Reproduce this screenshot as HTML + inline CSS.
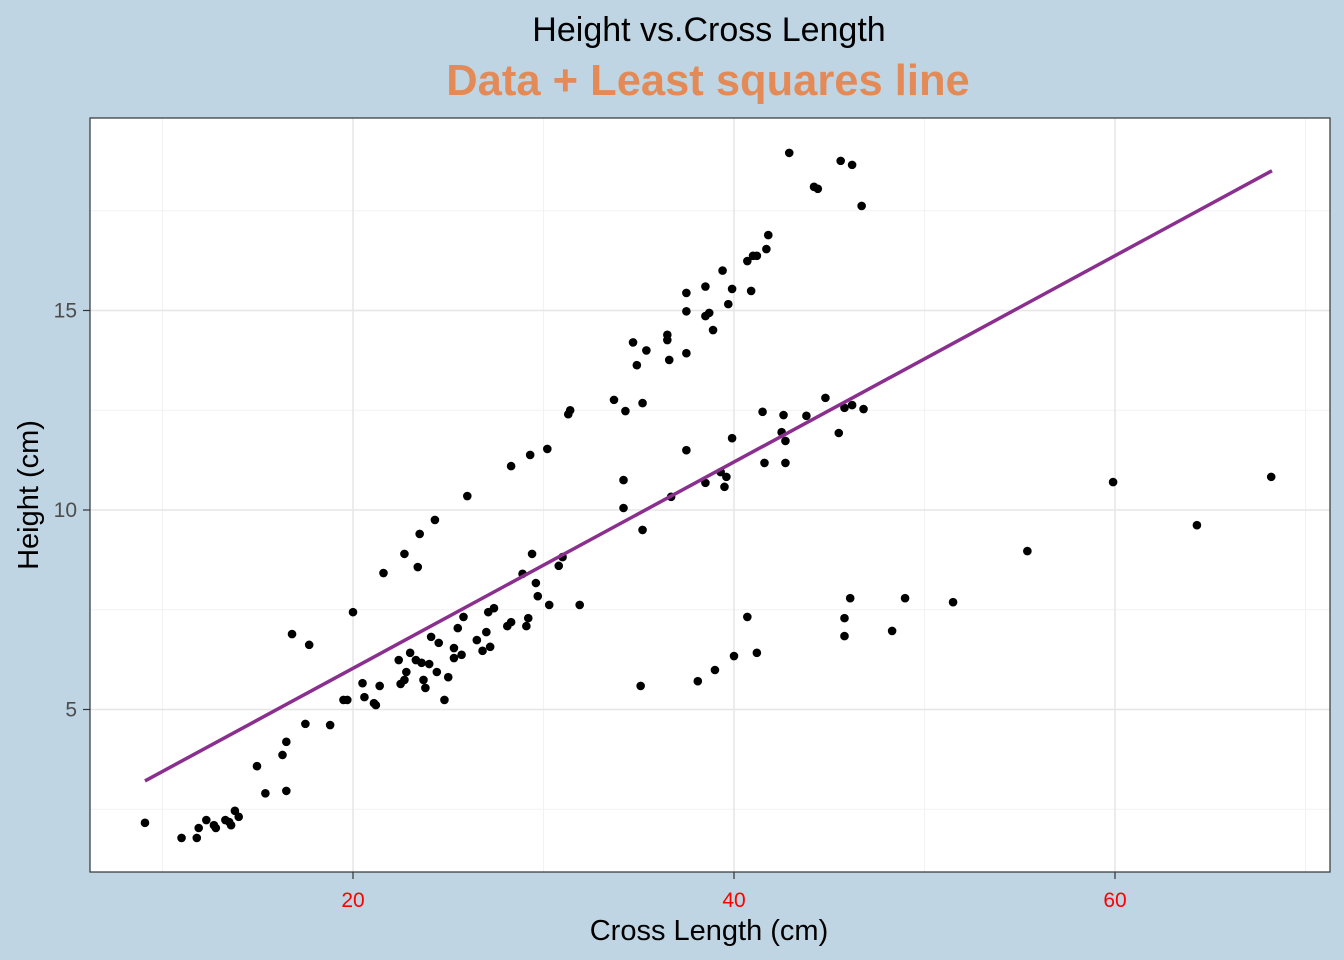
<!DOCTYPE html>
<html><head><meta charset="utf-8"><style>
html,body{margin:0;padding:0;background:#bfd5e3;}
svg{display:block;font-family:"Liberation Sans",Arial,sans-serif;}
</style></head><body>
<svg id="chart" width="1344" height="960">
<rect x="0" y="0" width="1344" height="960" fill="#bfd5e3"/>
<text x="709" y="41" font-size="34" text-anchor="middle" fill="#000">Height vs.Cross Length</text>
<text x="708" y="95" font-size="43.5" font-weight="bold" text-anchor="middle" fill="#e38a57">Data + Least squares line</text>
<rect x="90" y="118" width="1240" height="754" fill="#fff"/>
<g id="grid"></g>
<g id="points"></g>
<g id="fit"></g>
<rect x="90" y="118" width="1240" height="754" fill="none" stroke="#333" stroke-width="1.2"/>
<g id="axes"></g>
<text x="709" y="940" font-size="29" text-anchor="middle">Cross Length (cm)</text>
<text transform="translate(38,495) rotate(-90)" font-size="29" text-anchor="middle">Height (cm)</text>
</svg>
<script>
const xTicks=[20,40,60];
const xMinor=[10,30,50,70];
const yTicks=[5,10,15];
const yMinor=[2.5,7.5,12.5,17.5];
const xs=[9.08,11.0,11.8,11.9,12.3,12.7,12.8,13.3,13.5,13.6,13.8,14.0,14.96,15.4,16.3,16.5,16.5,16.8,17.5,17.7,18.8,19.5,19.7,20.0,20.5,20.6,21.1,21.2,21.4,21.6,22.4,22.5,22.7,22.7,22.8,23.0,23.4,23.5,23.3,23.6,23.7,23.8,24.0,24.1,24.3,24.4,24.5,24.8,25.0,25.3,25.3,25.5,25.7,25.8,26.0,26.5,26.8,27.0,27.1,27.2,27.4,28.1,28.3,28.3,28.9,29.1,29.2,29.3,29.4,29.6,29.7,30.2,30.3,30.8,31.0,31.3,31.4,31.9,33.7,34.3,34.2,34.2,34.7,34.9,35.1,35.2,35.2,35.4,36.5,36.5,36.6,36.7,37.5,37.5,37.5,37.5,38.1,38.5,38.5,38.5,38.7,38.9,39.0,39.3,39.4,39.5,39.6,39.7,39.9,39.9,40.0,40.7,40.7,40.9,41.0,41.2,41.2,41.5,41.6,41.7,41.8,42.5,42.6,42.7,42.7,42.9,43.8,44.2,44.4,44.8,45.5,45.6,45.8,45.8,45.8,46.1,46.2,46.2,46.7,46.8,48.3,48.98,51.5,55.4,59.9,64.3,68.2];
const ys=[2.16,1.78,1.78,2.03,2.23,2.1,2.03,2.23,2.18,2.1,2.46,2.31,3.58,2.9,3.86,4.19,2.96,6.89,4.64,6.62,4.61,5.24,5.24,7.44,5.66,5.31,5.16,5.11,5.59,8.42,6.24,5.64,8.9,5.74,5.94,6.42,8.57,9.4,6.24,6.17,5.74,5.54,6.14,6.82,9.75,5.94,6.67,5.24,5.81,6.54,6.29,7.04,6.37,7.32,10.35,6.74,6.47,6.94,7.44,6.57,7.54,7.09,7.19,11.1,8.4,7.09,7.29,11.38,8.9,8.17,7.84,11.53,7.62,8.6,8.82,12.4,12.5,7.62,12.76,12.48,10.75,10.05,14.2,13.63,5.59,9.5,12.68,14.0,14.39,14.26,13.76,10.33,15.44,14.98,11.5,13.93,5.71,15.6,14.86,10.68,14.94,14.51,5.99,10.95,16.0,10.58,10.83,15.16,15.54,11.8,6.34,16.24,7.32,15.49,16.37,16.37,6.42,12.46,11.18,16.54,16.89,11.95,12.38,11.73,11.18,18.95,12.36,18.1,18.05,12.81,11.93,18.75,12.56,7.29,6.84,7.79,18.65,12.63,17.62,12.53,6.97,7.79,7.69,8.97,10.7,9.62,10.83];
const fitX=[9.08,68.24];
const fitIntercept=0.863, fitSlope=0.2585;
const NS="http://www.w3.org/2000/svg";
const X=v=>-28+v*19.05, Y=v=>909-v*39.9;
function mk(tag,attrs,parent){const e=document.createElementNS(NS,tag);for(const k in attrs)e.setAttribute(k,attrs[k]);parent.appendChild(e);return e;}
const grid=document.getElementById('grid');
xMinor.forEach(v=>{const l=mk('line',{x1:X(v),x2:X(v),y1:118,y2:872,stroke:'#f2f2f2','stroke-width':1},grid);

});
yMinor.forEach(v=>{const l=mk('line',{x1:90,x2:1330,y1:Y(v),y2:Y(v),stroke:'#f2f2f2','stroke-width':1},grid);

});
xTicks.forEach(v=>{const l=mk('line',{x1:X(v),x2:X(v),y1:118,y2:872,stroke:'#e6e6e6','stroke-width':1.5},grid);

});
yTicks.forEach(v=>{const l=mk('line',{x1:90,x2:1330,y1:Y(v),y2:Y(v),stroke:'#e6e6e6','stroke-width':1.5},grid);

});
const pts=document.getElementById('points');
xs.forEach((v,i)=>{const c=mk('circle',{cx:X(v),cy:Y(ys[i]),r:4.3,fill:'#000'},pts);

});
const fit=document.getElementById('fit');
const ln=mk('line',{x1:X(fitX[0]),y1:Y(fitIntercept+fitSlope*fitX[0]),x2:X(fitX[1]),y2:Y(fitIntercept+fitSlope*fitX[1]),stroke:'#8b2f8f','stroke-width':3.5},fit);


const axes=document.getElementById('axes');
xTicks.forEach(v=>{const t=mk('line',{x1:X(v),x2:X(v),y1:872,y2:879,stroke:'#333','stroke-width':1.2},axes);


const tx=mk('text',{x:X(v),y:907,'font-size':21,'text-anchor':'middle',fill:'#ff0000'},axes);tx.textContent=v;

});
yTicks.forEach(v=>{const t=mk('line',{x1:83,x2:90,y1:Y(v),y2:Y(v),stroke:'#333','stroke-width':1.2},axes);


const tx=mk('text',{x:77,y:Y(v)+7,'font-size':21,'text-anchor':'end',fill:'#4d4d4d'},axes);tx.textContent=v;

});
</script>
</body></html>
